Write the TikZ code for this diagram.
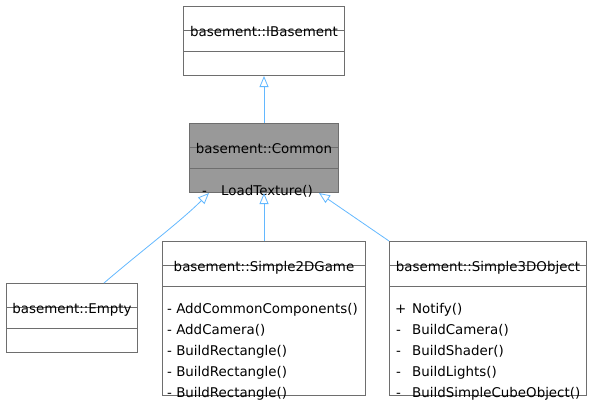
\documentclass[tikz,border=0pt]{standalone}
\usepackage{fontspec}
\setmainfont{DejaVu Sans}
\usetikzlibrary{arrows.meta}
\definecolor{edgeblue}{HTML}{63B8FF}
\definecolor{boxline}{HTML}{6E6E6E}
\definecolor{commonfill}{HTML}{999999}
\begin{document}
\begin{tikzpicture}[x=1pt,y=-1pt,
  font=\fontsize{13.4}{16}\selectfont,
  cls/.style={draw=boxline, line width=1pt, fill=white, inner sep=0pt, anchor=north west},
  ttl/.style={anchor=base, inner sep=0pt, text=black},
  mem/.style={anchor=base west, inner sep=0pt, text=black},
  rule/.style={draw=boxline, line width=1pt},
  inherit/.style={draw=edgeblue, line width=0.8pt, -{Triangle[open, length=11pt, width=9pt]}}]
\path[use as bounding box] (0,0) rectangle (591,400);

% boxes
\node[cls, minimum width=161pt, minimum height=69pt] (ib) at (183,6) {};
\node[cls, fill=commonfill, minimum width=149pt, minimum height=69pt] (cm) at (189,123) {};
\node[cls, minimum width=131pt, minimum height=69pt] (em) at (6,283) {};
\node[cls, minimum width=203pt, minimum height=154pt] (s2) at (162,241) {};
\node[cls, minimum width=197pt, minimum height=154pt] (s3) at (389,241) {};

% title strike lines and separators
\foreach \b in {ib,cm,em,s2,s3}{
  \draw[rule] ([yshift=-24pt]\b.north west) -- ([yshift=-24pt]\b.north east);
  \draw[rule] ([yshift=-45pt]\b.north west) -- ([yshift=-45pt]\b.north east);
}

% titles
\node[ttl] (ibt) at ([yshift=-30pt]ib.north) {basement::IBasement};
\node[ttl] (cmt) at ([yshift=-30pt]cm.north) {basement::Common};
\node[ttl] (emt) at ([yshift=-30pt]em.north) {basement::Empty};
\node[ttl] (s2t) at ([yshift=-30pt]s2.north) {basement::Simple2DGame};
\node[ttl] (s3t) at ([yshift=-30pt]s3.north) {basement::Simple3DObject};

% members
\node[mem] (cm1) at (202,195) {\makebox[19pt][l]{-}LoadTexture()};

\node[mem] (s21) at (167,313) {- AddCommonComponents()};
\node[mem] (s22) at (167,334) {- AddCamera()};
\node[mem] (s23) at (167,355) {- BuildRectangle()};
\node[mem] (s24) at (167,376) {- BuildRectangle()};
\node[mem] (s25) at (167,397) {- BuildRectangle()};

\node[mem] (s31) at (395,313) {\makebox[17pt][l]{+}Notify()};
\node[mem] (s32) at (395,334) {\makebox[17pt][l]{\hspace{1pt}-}BuildCamera()};
\node[mem] (s33) at (395,355) {\makebox[17pt][l]{\hspace{1pt}-}BuildShader()};
\node[mem] (s34) at (395,376) {\makebox[17pt][l]{\hspace{1pt}-}BuildLights()};
\node[mem] (s35) at (395,397) {\makebox[17pt][l]{\hspace{1pt}-}BuildSimpleCubeObject()};

% inheritance connectors
\draw[inherit] (cm.north) -- (ib.south);
\draw[inherit] (s2.north) -- (cm.south);
\draw[inherit] ([xshift=32pt]em.north) .. controls (140,252) and (180,222) .. ([xshift=-55pt]cm.south);
\draw[inherit] (s3.north west) -- ([xshift=55pt]cm.south);
\end{tikzpicture}
\end{document}
